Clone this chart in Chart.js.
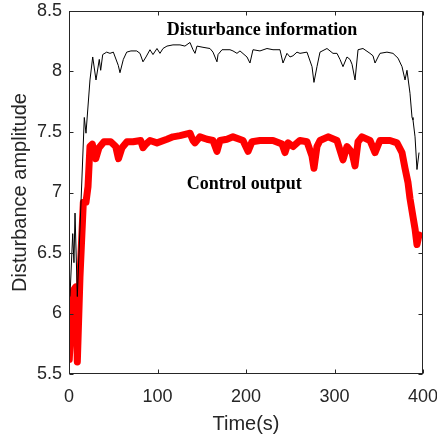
<!DOCTYPE html>
<html>
<head>
<meta charset="utf-8">
<script src="https://cdn.jsdelivr.net/npm/chart.js@4.4.1/dist/chart.umd.min.js"></script>
<style>
  html, body { margin: 0; padding: 0; background: #fff; }
  canvas { display: block; }
</style>
</head>
<body>
<canvas id="chart" width="437" height="439"></canvas>
<script>
// values (time in s, amplitude)
const disturbanceTime = [1.1, 4.2, 5.6, 6.8, 9.4, 17.3, 19.2, 23.7, 26.8, 30.5, 34.2, 35.8, 38.1, 42.6, 46.3, 50.1, 55.7, 57.6, 61.4, 65.2,
  70, 76.5, 80.2, 83.6, 87, 91.5, 94.9, 99.4, 102.8, 106.2, 110.7, 117.5, 125.4, 131, 136.7, 140.1, 142.4, 144.6, 151.4, 159.3,
  162.7, 167.2, 168.4, 172.9, 181.9, 185.3, 189.8, 193.2, 201.1, 204.5, 207.9, 215.8, 223.7, 230.5, 238.4, 241.8, 246.3, 249.7, 253.1, 257.6,
  261, 268.9, 274.6, 276.8, 280.2, 283.6, 291.5, 298.3, 302.8, 306.2, 309.6, 314.1, 317.5, 319.8, 323.2, 326.6, 332.2, 340.1, 343.5, 345.8,
  349.2, 351.4, 359.3, 366.1, 371.8, 376.3, 379.7, 381.9, 385.3, 387.6, 388.7, 391, 393.2, 395.5];
const disturbance = [6.14, 6.66, 6.42, 6.83, 6.14, 7.62, 7.49, 7.93, 8.12, 7.93, 8.10, 8.01, 8.14, 8.16, 8.15, 8.16, 8.05, 7.99, 8.10, 8.16,
  8.17, 8.17, 8.15, 8.08, 8.12, 8.18, 8.14, 8.19, 8.15, 8.19, 8.21, 8.22, 8.22, 8.21, 8.24, 8.18, 8.15, 8.21, 8.20, 8.19,
  8.16, 8.08, 8.14, 8.18, 8.18, 8.17, 8.15, 8.17, 8.12, 8.07, 8.18, 8.17, 8.19, 8.18, 8.18, 8.07, 8.15, 8.12, 8.13, 8.16,
  8.15, 8.16, 8.04, 7.91, 8.04, 8.16, 8.19, 8.15, 8.15, 8.10, 8.04, 8.12, 8.10, 8.06, 7.93, 8.18, 8.19, 8.15, 8.13, 8.07,
  8.12, 8.15, 8.16, 8.15, 8.11, 8.04, 7.93, 8.01, 7.82, 7.62, 7.60, 7.46, 7.19, 7.33];

const outputTime = [0.3, 2.3, 4.9, 7.6, 9.4, 12.4, 16.2, 19.2, 21.5, 23.7, 26.3, 30.2, 33.9, 39.5, 47.1, 52.8, 55.9, 59.9, 65.5, 72.3,
  81, 83.6, 87, 91.5, 99.4, 110.7, 117.5, 125.4, 136.7, 140.1, 142.4, 148, 155.9, 162.7, 167.2, 170.6, 178.5, 185.3, 196.6, 202.3,
  206.8, 215.8, 230.5, 240.7, 244.1, 247.5, 253.1, 261, 268.9, 274.6, 276.8, 280.2, 283.6, 292.7, 302.8, 309.6, 314.1, 319.8, 323.2, 326.6,
  331.1, 340.1, 345.8, 351.4, 362.7, 370.6, 376.3, 379.7, 383.1, 385.3, 388.7, 391, 393.2, 395.5];
const controlOutput = [5.62, 5.9, 6.19, 6.22, 5.6, 6.3, 6.92, 6.92, 7.05, 7.38, 7.40, 7.28, 7.37, 7.42, 7.42, 7.38, 7.28, 7.37, 7.42, 7.42,
  7.43, 7.37, 7.40, 7.43, 7.41, 7.44, 7.46, 7.47, 7.49, 7.43, 7.41, 7.46, 7.44, 7.43, 7.34, 7.43, 7.44, 7.46, 7.43, 7.34,
  7.42, 7.43, 7.43, 7.40, 7.33, 7.41, 7.38, 7.43, 7.42, 7.30, 7.20, 7.38, 7.43, 7.46, 7.43, 7.27, 7.38, 7.33, 7.22, 7.42,
  7.46, 7.43, 7.33, 7.43, 7.43, 7.41, 7.33, 7.20, 7.08, 6.95, 6.80, 6.70, 6.57, 6.65];

const xTicks = [0, 100, 200, 300, 400];
const yTicks = [5.5, 6, 6.5, 7, 7.5, 8, 8.5];

const textColor = '#262626';
const sansFont = "'Liberation Sans', Arial, sans-serif";
const serifFont = "'Liberation Serif', 'Times New Roman', serif";

function toPoints(xs, ys) {
  return xs.map((t, i) => ({ x: t, y: ys[i] }));
}

// box around the plot with inward ticks, plus the two curve labels
const boxPlugin = {
  id: 'boxPlugin',
  afterDatasetsDraw(chart) {
    const { ctx, chartArea: a, scales: { x, y } } = chart;
    ctx.save();
    ctx.strokeStyle = textColor;
    ctx.lineWidth = 1;
    const L = Math.round(a.left) + 0.5, R = Math.round(a.right) - 0.5;
    const T = Math.round(a.top) + 0.5, B = Math.round(a.bottom) - 0.5;
    ctx.strokeRect(L, T, R - L, B - T);
    ctx.beginPath();
    xTicks.forEach(v => {
      const px = Math.round(x.getPixelForValue(v)) + 0.5;
      ctx.moveTo(px, B); ctx.lineTo(px, B - 4);
      ctx.moveTo(px, T); ctx.lineTo(px, T + 4);
    });
    yTicks.forEach(v => {
      const py = Math.round(y.getPixelForValue(v)) + 0.5;
      ctx.moveTo(L, py); ctx.lineTo(L + 4, py);
      ctx.moveTo(R, py); ctx.lineTo(R - 4, py);
    });
    ctx.stroke();

    ctx.fillStyle = '#000';
    ctx.font = 'bold 18px ' + serifFont;
    ctx.textAlign = 'center';
    ctx.textBaseline = 'middle';
    ctx.fillText('Disturbance information', x.getPixelForValue(218), y.getPixelForValue(8.34));
    ctx.fillText('Control output', x.getPixelForValue(198), y.getPixelForValue(7.07));
    ctx.restore();
  }
};

const ctx = document.getElementById('chart').getContext('2d');
new Chart(ctx, {
  type: 'line',
  data: {
    datasets: [
      {
        label: 'Disturbance information',
        data: toPoints(disturbanceTime, disturbance),
        borderColor: '#000000',
        borderWidth: 1,
        pointRadius: 0,
        tension: 0
      },
      {
        label: 'Control output',
        data: toPoints(outputTime, controlOutput),
        borderColor: '#ff0000',
        borderWidth: 7,
        borderJoinStyle: 'round',
        borderCapStyle: 'round',
        pointRadius: 0,
        tension: 0
      }
    ]
  },
  options: {
    responsive: false,
    animation: false,
    devicePixelRatio: 1,
    layout: { padding: { top: 11, right: 14, left: 0, bottom: 0 } },
    plugins: { legend: { display: false }, tooltip: { enabled: false } },
    scales: {
      x: {
        type: 'linear',
        min: 0,
        max: 400,
        afterBuildTicks: s => { s.ticks = xTicks.map(v => ({ value: v })); },
        afterFit: s => { s.height = 65; s.paddingLeft = 0; s.paddingRight = 0; },
        grid: { display: false, drawTicks: false },
        border: { display: false },
        ticks: { color: textColor, font: { family: sansFont, size: 18 }, padding: 12, maxRotation: 0, callback: v => String(v) },
        title: { display: true, text: 'Time(s)', color: textColor, font: { family: sansFont, size: 20 }, padding: { top: 0, bottom: 3 } }
      },
      y: {
        min: 5.5,
        max: 8.5,
        afterBuildTicks: s => { s.ticks = yTicks.map(v => ({ value: v })); },
        afterFit: s => { s.width = 69; s.paddingTop = 0; s.paddingBottom = 0; },
        grid: { display: false, drawTicks: false },
        border: { display: false },
        ticks: { color: textColor, font: { family: sansFont, size: 18 }, padding: 7, callback: v => String(v) },
        title: { display: true, text: 'Disturbance amplitude', color: textColor, font: { family: sansFont, size: 20 }, padding: { top: 8, bottom: 0 } }
      }
    }
  },
  plugins: [boxPlugin]
});
</script>
</body>
</html>
